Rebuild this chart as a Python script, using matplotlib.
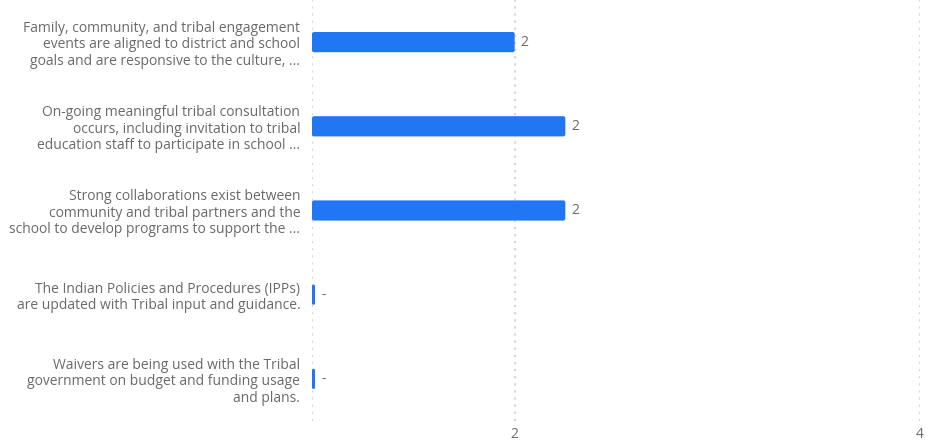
import numpy as np
import matplotlib
matplotlib.use("Agg")
import matplotlib.pyplot as plt
from matplotlib.patches import FancyBboxPatch

plt.rcParams['font.family'] = ['Open Sans', 'DejaVu Sans']

categories = [
    "Family, community, and tribal engagement\nevents are aligned to district and school\ngoals and are responsive to the culture, ...",
    "On-going meaningful tribal consultation\noccurs, including invitation to tribal\neducation staff to participate in school ...",
    "Strong collaborations exist between\ncommunity and tribal partners and the\nschool to develop programs to support the ...",
    "The Indian Policies and Procedures (IPPs)\nare updated with Tribal input and guidance.",
    "Waivers are being used with the Tribal\ngovernment on budget and funding usage\nand plans.",
]
scores = [2.0, 2.25, 2.25, np.nan, np.nan]
x_ticks = [2, 4]

bar_color = '#2176f4'
text_color = '#6a6a6a'
grid_color = '#d8d8d8'
x_min, x_max = 1, 4
stub = 0.015  # width drawn for rows with no score

fig = plt.figure(figsize=(9.45, 4.41), dpi=100)
ax = fig.add_axes([312 / 945, 20 / 441, (920 - 312) / 945, 421 / 441])

ypos = np.arange(len(categories))
bar_h = 0.24

for y in x_ticks + [x_min]:
    ax.axvline(y, color=grid_color, linestyle=(0, (1, 2.2)), linewidth=1.6, zorder=0)

# rounded bars; aspect converts x units to y units so corners stay round
px_x = (920 - 312) / (x_max - x_min)
px_y = 421 / len(categories)
for yi, v in zip(ypos, scores):
    w = (v - x_min) if not np.isnan(v) else stub
    r = min(0.01, w / 2)
    p = FancyBboxPatch((x_min, yi - bar_h / 2), w, bar_h,
                       boxstyle=f"round,pad=0,rounding_size={r}",
                       mutation_aspect=px_x / px_y,
                       facecolor=bar_color, edgecolor='none', zorder=2)
    ax.add_patch(p)
    label = f"{v:.0f}" if not np.isnan(v) else "-"
    ax.text(x_min + w + 0.03, yi, label, ha='left', va='center',
            fontsize=10, color=text_color)

ax.set_xlim(x_min, x_max)
ax.set_ylim(len(categories) - 0.5, -0.5)
ax.set_xticks(x_ticks)
ax.set_xticklabels([str(t) for t in x_ticks])
ax.set_yticks(ypos)
ax.set_yticklabels(categories, ha='right', linespacing=1.15)
ax.tick_params(axis='both', length=0, labelsize=10, labelcolor=text_color)
ax.tick_params(axis='y', pad=8.5)
ax.tick_params(axis='x', pad=4)
for s in ax.spines.values():
    s.set_visible(False)

fig.savefig("out.png", dpi=100)
